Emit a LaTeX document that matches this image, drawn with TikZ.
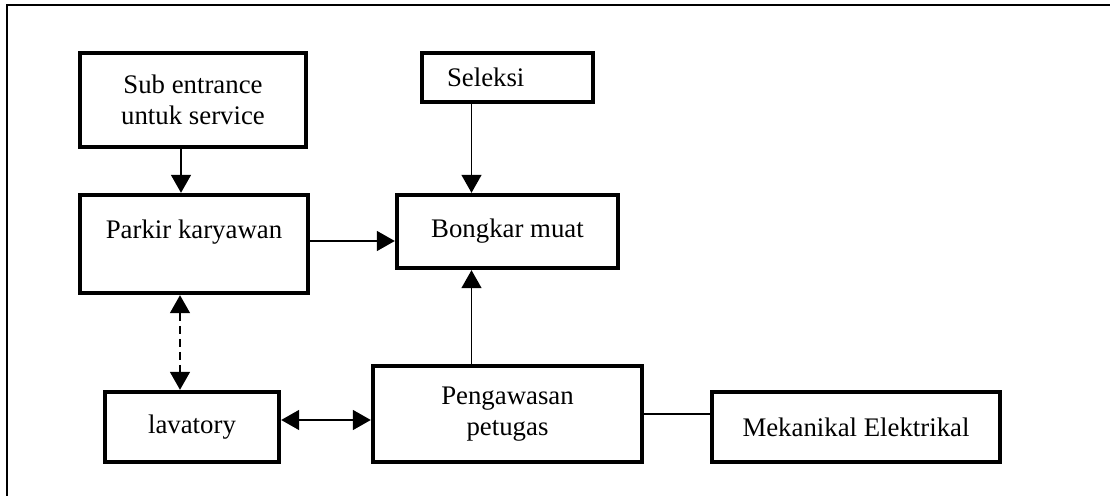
\documentclass[tikz,border=0pt]{standalone}
\usepackage{fontspec}
\setmainfont{Liberation Serif}
\usetikzlibrary{arrows.meta,positioning}

\begin{document}
\begin{tikzpicture}[x=0.5pt,y=-0.5pt,
  blok/.style={draw,line width=2.2pt,inner sep=0pt,align=center,
    font=\fontsize{13.4}{15.5}\selectfont},
  panah/.style={line width=0.8pt,-{Triangle[length=9pt,width=10pt]}},
  panahdua/.style={line width=0.8pt,{Triangle[length=9pt,width=10pt]}-{Triangle[length=9pt,width=10pt]}}]
\useasboundingbox (0,0) rectangle (1110,496);
\draw[line width=1pt] (7,496) -- (7,5) -- (1110,5);
% kotak-kotak
\node[blok,minimum width=113pt,minimum height=47pt] (sub) at (193,100) {Sub entrance\\untuk service};
\node[blok,minimum width=85.5pt,minimum height=24.5pt,inner xsep=12.5pt,text width=60.5pt,align=left] (seleksi) at (507.5,77.5) {Seleksi};
\node[blok,minimum width=114pt,minimum height=49pt,text depth=15pt] (parkir) at (194,244) {Parkir karyawan};
\node[blok,minimum width=110.5pt,minimum height=36.5pt] (bongkar) at (507.5,231.5) {Bongkar muat};
\node[blok,minimum width=87pt,minimum height=35pt] (lav) at (192,427) {lavatory};
\node[blok,minimum width=134.5pt,minimum height=48pt] (peng) at (507.5,414) {Pengawasan\\petugas};
\node[blok,minimum width=144pt,minimum height=35pt] (mek) at (856,427) {Mekanikal Elektrikal};
% hubungan
\draw[panah] ([xshift=-6pt]sub.south) -- ([xshift=-6pt]sub.south |- parkir.north);
\draw[panah] ([xshift=-18pt]seleksi.south) -- ([xshift=-18pt]bongkar.north);
\draw[panah] ([yshift=1.5pt]parkir.east) -- ([yshift=1.5pt]parkir.east -| bongkar.west);
\draw[panah] ([xshift=-18pt]peng.north) -- ([xshift=-18pt]bongkar.south);
\draw[panahdua,dash pattern=on 4pt off 2.5pt] ([xshift=-7pt]parkir.south) -- ([xshift=-7pt]parkir.south |- lav.north);
\draw[panahdua] ([yshift=3.5pt]lav.east) -- ([yshift=3.5pt]lav.east -| peng.west);
\draw[line width=0.8pt] (peng.east) -- (peng.east -| mek.west);
\end{tikzpicture}
\end{document}
